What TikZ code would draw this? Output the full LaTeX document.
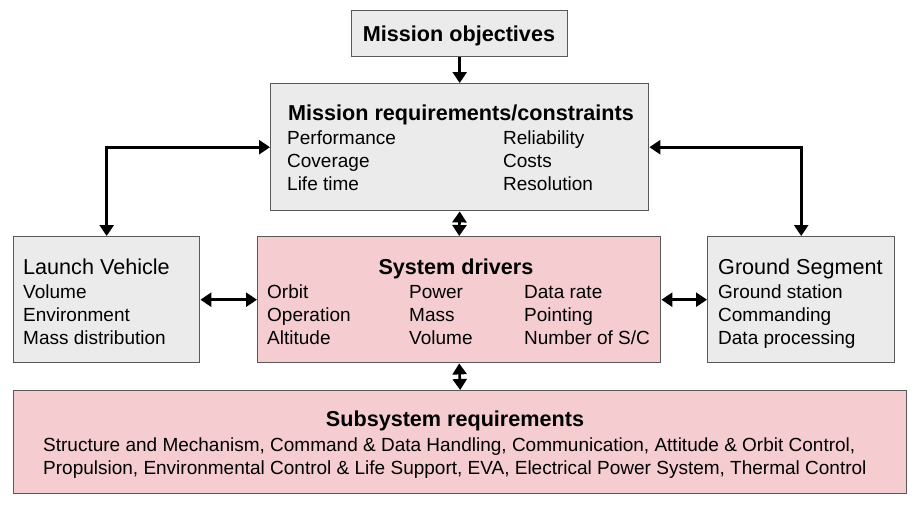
\documentclass[tikz,border=0pt]{standalone}
\usepackage{fontspec}
\setmainfont{Liberation Sans}
\usetikzlibrary{arrows.meta}
\definecolor{boxgray}{HTML}{EBEBEB}
\definecolor{boxpink}{HTML}{F5CCCF}
\definecolor{edgegray}{HTML}{595959}
\tikzset{
  graybox/.style={draw=edgegray, line width=1.4pt, fill=boxgray, anchor=north west, inner sep=0pt},
  pinkbox/.style={draw=edgegray, line width=1.4pt, fill=boxpink, anchor=north west, inner sep=0pt},
  head/.style={inner sep=0pt, anchor=base, font=\fontsize{21.6}{26}\selectfont\bfseries},
  headl/.style={inner sep=0pt, anchor=base west, font=\fontsize{21.6}{26}\selectfont},
  item/.style={inner sep=0pt, anchor=base west, font=\fontsize{19}{23}\selectfont, align=left},
  arr/.style={line width=2.6pt, -{Triangle[width=14pt,length=11pt]}},
  darr/.style={line width=2.6pt, {Triangle[width=14pt,length=11pt]}-{Triangle[width=14pt,length=11pt]}}
}
\begin{document}
\begin{tikzpicture}[x=1pt,y=-1pt]
\useasboundingbox (0,0) rectangle (916,504);
% boxes
\node[graybox, minimum width=216pt, minimum height=46pt] (mo) at (351,10) {};
\node[graybox, minimum width=378pt, minimum height=127pt] (mreq) at (270,83) {};
\node[graybox, minimum width=186pt, minimum height=126pt] (lv) at (13,236) {};
\node[pinkbox, minimum width=403pt, minimum height=126pt] (sd) at (257,236) {};
\node[graybox, minimum width=187pt, minimum height=126pt] (gs) at (707,236) {};
\node[pinkbox, minimum width=893pt, minimum height=103pt] (ss) at (13,390) {};
% texts
\node[head] (mot) at (459,41) {Mission objectives};
\node[head] (mreqt) at (461,120) {Mission requirements/constraints};
\node[item] (mreq1) at (287,144) {Performance};
\node[item] (mreq2) at (287,167) {Coverage};
\node[item] (mreq3) at (287,190) {Life time};
\node[item] (mreq4) at (503,144) {Reliability};
\node[item] (mreq5) at (503,167) {Costs};
\node[item] (mreq6) at (503,190) {Resolution};
\node[headl] (lvt) at (23,274) {Launch Vehicle};
\node[item] (lv1) at (23,298) {Volume};
\node[item] (lv2) at (23,321) {Environment};
\node[item] (lv3) at (23,344) {Mass distribution};
\node[head] (sdt) at (456,274) {System drivers};
\node[item] (sd1) at (267,298) {Orbit};
\node[item] (sd2) at (267,321) {Operation};
\node[item] (sd3) at (267,344) {Altitude};
\node[item] (sd4) at (409,298) {Power};
\node[item] (sd5) at (409,321) {Mass};
\node[item] (sd6) at (409,344) {Volume};
\node[item] (sd7) at (524,298) {Data rate};
\node[item] (sd8) at (524,321) {Pointing};
\node[item] (sd9) at (524,344) {Number of S/C};
\node[headl] (gst) at (718,274) {Ground Segment};
\node[item] (gs1) at (718,298) {Ground station};
\node[item] (gs2) at (718,321) {Commanding};
\node[item] (gs3) at (718,344) {Data processing};
\node[head] (sst) at (455,426) {Subsystem requirements};
\node[item] (ss1) at (43,451) {Structure and Mechanism, Command \& Data Handling, Communication, Attitude \& Orbit Control,};
\node[item] (ss2) at (43,474) {Propulsion, Environmental Control \& Life Support, EVA, Electrical Power System, Thermal Control};
% connectors
\draw[arr] (mo.south) -- (mreq.north);
\draw[darr] (mreq.west) -| (lv.north);
\draw[darr] (mreq.east) -| (gs.north);
\draw[darr] (mreq.south) -- (sd.north);
\draw[darr] (lv.east) -- (sd.west);
\draw[darr] (sd.east) -- (gs.west);
\draw[darr] (sd.south) -- (ss.north);
\end{tikzpicture}
\end{document}
